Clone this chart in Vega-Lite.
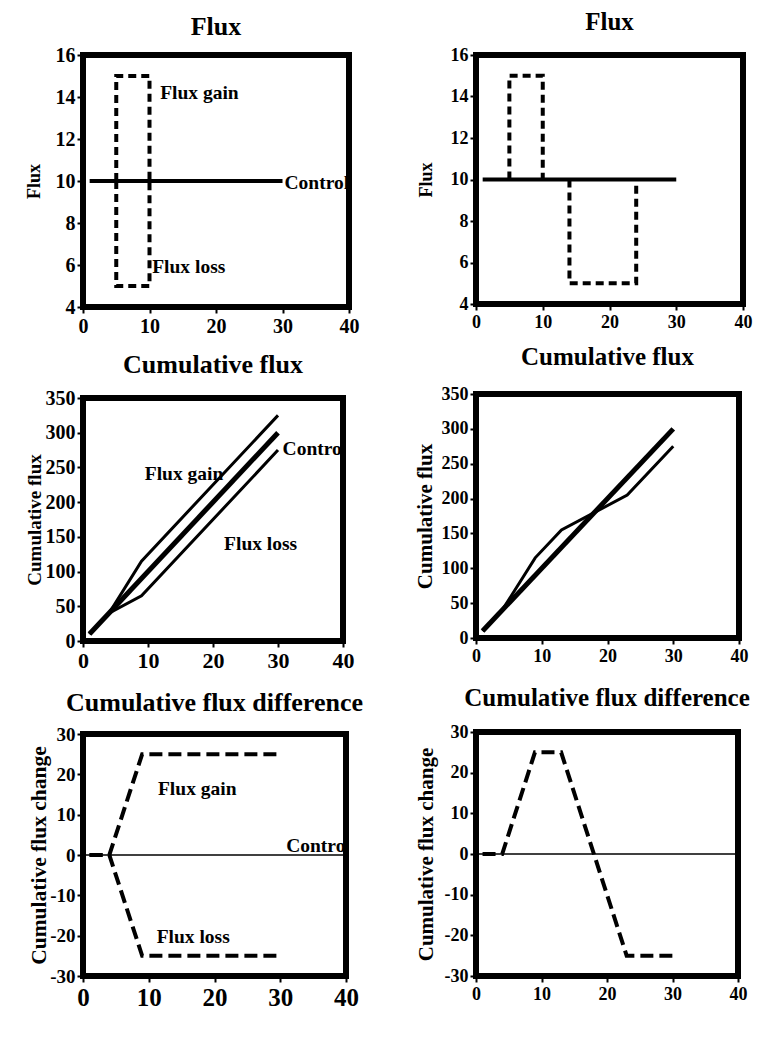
{
  "$schema": "https://vega.github.io/schema/vega-lite/v6.json",
  "background": "white",
  "padding": {"left": 22, "top": 7, "right": 5, "bottom": 5},
  "config": {
    "font": "Liberation Serif",
    "view": {"stroke": "black", "strokeWidth": 6},
    "title": {"font": "Liberation Serif", "fontSize": 26, "fontWeight": "bold", "color": "black", "offset": 8},
    "axis": {
      "labelFont": "Liberation Serif", "labelFontWeight": "bold", "labelFontSize": 18, "labelColor": "black",
      "titleFont": "Liberation Serif", "titleFontWeight": "bold", "titleFontSize": 18, "titleColor": "black",
      "grid": false, "domain": false, "tickColor": "black", "tickWidth": 2, "tickSize": 6, "labelPadding": 2,
      "labelOverlap": false, "labelFlush": false,
      "labelExpr": "datum.value < 0 ? '-' + abs(datum.value) : '' + datum.value"
    },
    "axisX": {"labelPadding": 3}
  },
  "spacing": 44,
  "align": "none",
  "hconcat": [
    {
      "spacing": 10,
      "align": "none",
      "vconcat": [
        {
          "title": {"text": "Flux", "offset": 5},
          "width": 266, "height": 252,
          "layer": [
            {
              "data": {"values": [{"x": 1, "y": 10}, {"x": 30, "y": 10}]},
              "mark": {"type": "line", "color": "black", "strokeWidth": 4},
              "encoding": {
                "x": {"field": "x", "type": "quantitative", "scale": {"domain": [0, 40], "nice": false}, "axis": {"values": [0, 10, 20, 30, 40], "title": null, "labelFontSize": 20, "labelOverlap": false}},
                "y": {"field": "y", "type": "quantitative", "scale": {"domain": [4, 16], "nice": false, "zero": false}, "axis": {"values": [4, 6, 8, 10, 12, 14, 16], "title": "Flux", "titlePadding": 4, "minExtent": 36, "maxExtent": 36, "labelFontSize": 20, "labelOverlap": false}}
              }
            },
            {
              "data": {"values": [
                {"s": "gain", "o": 1, "x": 5, "y": 10}, {"s": "gain", "o": 2, "x": 5, "y": 15}, {"s": "gain", "o": 3, "x": 10, "y": 15}, {"s": "gain", "o": 4, "x": 10, "y": 10},
                {"s": "loss", "o": 1, "x": 5, "y": 10}, {"s": "loss", "o": 2, "x": 5, "y": 5}, {"s": "loss", "o": 3, "x": 10, "y": 5}, {"s": "loss", "o": 4, "x": 10, "y": 10}
              ]},
              "mark": {"type": "line", "color": "black", "strokeWidth": 4, "strokeDash": [8, 5]},
              "encoding": {
                "x": {"field": "x", "type": "quantitative"},
                "y": {"field": "y", "type": "quantitative"},
                "detail": {"field": "s"},
                "order": {"field": "o"}
              }
            },
            {
              "data": {"values": [
                {"x": 11.6, "y": 14.2, "t": "Flux gain"},
                {"x": 10.4, "y": 5.9, "t": "Flux loss"},
                {"x": 30.3, "y": 9.9, "t": "Control"}
              ]},
              "mark": {"type": "text", "align": "left", "baseline": "middle", "font": "Liberation Serif", "fontWeight": "bold", "fontSize": 19.5, "color": "black", "clip": true},
              "encoding": {
                "x": {"field": "x", "type": "quantitative"},
                "y": {"field": "y", "type": "quantitative"},
                "text": {"field": "t"}
              }
            }
          ]
        },
        {
          "spacing": 13,
          "align": "none",
          "vconcat": [
            {
              "title": {"text": "Cumulative flux", "offset": 10},
              "width": 260, "height": 243,
              "layer": [
                {
                  "data": {"values": [{"x": 1, "y": 10}, {"x": 30, "y": 300}]},
                  "mark": {"type": "line", "color": "black", "strokeWidth": 5},
                  "encoding": {
                    "x": {"field": "x", "type": "quantitative", "scale": {"domain": [0, 40], "nice": false}, "axis": {"values": [0, 10, 20, 30, 40], "title": null, "labelFontSize": 22, "labelOverlap": false}},
                    "y": {"field": "y", "type": "quantitative", "scale": {"domain": [0, 350], "nice": false}, "axis": {"values": [0, 50, 100, 150, 200, 250, 300, 350], "tickCount": 8, "title": "Cumulative flux", "titlePadding": 4, "minExtent": 35, "maxExtent": 35, "titleFontSize": 19, "labelFontSize": 20, "labelOverlap": false}}
                  }
                },
                {
                  "data": {"values": [
                    {"s": "gain", "x": 1, "y": 10}, {"s": "gain", "x": 4, "y": 40}, {"s": "gain", "x": 9, "y": 115}, {"s": "gain", "x": 30, "y": 325},
                    {"s": "loss", "x": 1, "y": 10}, {"s": "loss", "x": 4, "y": 40}, {"s": "loss", "x": 9, "y": 65}, {"s": "loss", "x": 30, "y": 275}
                  ]},
                  "mark": {"type": "line", "color": "black", "strokeWidth": 3},
                  "encoding": {
                    "x": {"field": "x", "type": "quantitative"},
                    "y": {"field": "y", "type": "quantitative"},
                    "detail": {"field": "s"}
                  }
                },
                {
                  "data": {"values": [
                    {"x": 9.5, "y": 240, "t": "Flux gain"},
                    {"x": 21.7, "y": 140, "t": "Flux loss"},
                    {"x": 30.7, "y": 276, "t": "Control"}
                  ]},
                  "mark": {"type": "text", "align": "left", "baseline": "middle", "font": "Liberation Serif", "fontWeight": "bold", "fontSize": 19.5, "color": "black", "clip": true},
                  "encoding": {
                    "x": {"field": "x", "type": "quantitative"},
                    "y": {"field": "y", "type": "quantitative"},
                    "text": {"field": "t"}
                  }
                }
              ]
            },
            {
              "title": {"text": "Cumulative flux difference", "offset": 9},
              "width": 263, "height": 242,
              "layer": [
                {
                  "data": {"values": [{"x": 0, "y": 0}, {"x": 40, "y": 0}]},
                  "mark": {"type": "line", "color": "black", "strokeWidth": 1.3},
                  "encoding": {
                    "x": {"field": "x", "type": "quantitative", "scale": {"domain": [0, 40], "nice": false}, "axis": {"values": [0, 10, 20, 30, 40], "title": null, "labelFontSize": 25, "labelOverlap": false}},
                    "y": {"field": "y", "type": "quantitative", "scale": {"domain": [-30, 30], "nice": false}, "axis": {"values": [-30, -20, -10, 0, 10, 20, 30], "title": "Cumulative flux change", "titlePadding": 2, "minExtent": 31, "maxExtent": 31, "titleFontSize": 21.5, "labelFontSize": 19, "labelOverlap": false}}
                  }
                },
                {
                  "data": {"values": [
                    {"s": "gain", "x": 1, "y": 0}, {"s": "gain", "x": 4, "y": 0}, {"s": "gain", "x": 9, "y": 25}, {"s": "gain", "x": 30, "y": 25},
                    {"s": "loss", "x": 1, "y": 0}, {"s": "loss", "x": 4, "y": 0}, {"s": "loss", "x": 9, "y": -25}, {"s": "loss", "x": 30, "y": -25}
                  ]},
                  "mark": {"type": "line", "color": "black", "strokeWidth": 4, "strokeDash": [13, 6]},
                  "encoding": {
                    "x": {"field": "x", "type": "quantitative"},
                    "y": {"field": "y", "type": "quantitative"},
                    "detail": {"field": "s"}
                  }
                },
                {
                  "data": {"values": [
                    {"x": 11.4, "y": 16.4, "t": "Flux gain"},
                    {"x": 11.2, "y": -20.3, "t": "Flux loss"},
                    {"x": 30.9, "y": 2.2, "t": "Control"}
                  ]},
                  "mark": {"type": "text", "align": "left", "baseline": "middle", "font": "Liberation Serif", "fontWeight": "bold", "fontSize": 19.5, "color": "black", "clip": true},
                  "encoding": {
                    "x": {"field": "x", "type": "quantitative"},
                    "y": {"field": "y", "type": "quantitative"},
                    "text": {"field": "t"}
                  }
                }
              ]
            }
          ]
        }
      ]
    },
    {
      "spacing": 8,
      "vconcat": [
        {
          "title": {"text": "Flux", "fontSize": 25, "offset": 11},
          "width": 267, "height": 249,
          "layer": [
            {
              "data": {"values": [{"x": 1, "y": 10}, {"x": 30, "y": 10}]},
              "mark": {"type": "line", "color": "black", "strokeWidth": 4},
              "encoding": {
                "x": {"field": "x", "type": "quantitative", "scale": {"domain": [0, 40], "nice": false}, "axis": {"values": [0, 10, 20, 30, 40], "title": null, "labelOverlap": false}},
                "y": {"field": "y", "type": "quantitative", "scale": {"domain": [4, 16], "nice": false, "zero": false}, "axis": {"values": [4, 6, 8, 10, 12, 14, 16], "title": "Flux", "titlePadding": 4, "minExtent": 37, "maxExtent": 37, "labelOverlap": false}}
              }
            },
            {
              "data": {"values": [
                {"s": "gain", "o": 1, "x": 5, "y": 10}, {"s": "gain", "o": 2, "x": 5, "y": 15}, {"s": "gain", "o": 3, "x": 10, "y": 15}, {"s": "gain", "o": 4, "x": 10, "y": 10},
                {"s": "loss", "o": 1, "x": 14, "y": 10}, {"s": "loss", "o": 2, "x": 14, "y": 5}, {"s": "loss", "o": 3, "x": 24, "y": 5}, {"s": "loss", "o": 4, "x": 24, "y": 10}
              ]},
              "mark": {"type": "line", "color": "black", "strokeWidth": 4, "strokeDash": [8, 5]},
              "encoding": {
                "x": {"field": "x", "type": "quantitative"},
                "y": {"field": "y", "type": "quantitative"},
                "detail": {"field": "s"},
                "order": {"field": "o"}
              }
            }
          ]
        },
        {
          "spacing": 15,
          "vconcat": [
            {
              "title": {"text": "Cumulative flux", "fontSize": 25, "offset": 15},
              "width": 263, "height": 244,
              "layer": [
                {
                  "data": {"values": [{"x": 1, "y": 10}, {"x": 30, "y": 300}]},
                  "mark": {"type": "line", "color": "black", "strokeWidth": 5},
                  "encoding": {
                    "x": {"field": "x", "type": "quantitative", "scale": {"domain": [0, 40], "nice": false}, "axis": {"values": [0, 10, 20, 30, 40], "title": null, "labelOverlap": false}},
                    "y": {"field": "y", "type": "quantitative", "scale": {"domain": [0, 350], "nice": false}, "axis": {"values": [0, 50, 100, 150, 200, 250, 300, 350], "tickCount": 8, "title": "Cumulative flux", "titlePadding": 4, "minExtent": 37, "maxExtent": 37, "titleFontSize": 21, "labelOverlap": false}}
                  }
                },
                {
                  "data": {"values": [
                    {"x": 1, "y": 10}, {"x": 4, "y": 40}, {"x": 9, "y": 115}, {"x": 13, "y": 155}, {"x": 23, "y": 205}, {"x": 30, "y": 275}
                  ]},
                  "mark": {"type": "line", "color": "black", "strokeWidth": 3},
                  "encoding": {
                    "x": {"field": "x", "type": "quantitative"},
                    "y": {"field": "y", "type": "quantitative"}
                  }
                }
              ]
            },
            {
              "title": {"text": "Cumulative flux difference", "fontSize": 25, "offset": 12},
              "width": 262, "height": 244,
              "layer": [
                {
                  "data": {"values": [{"x": 0, "y": 0}, {"x": 40, "y": 0}]},
                  "mark": {"type": "line", "color": "black", "strokeWidth": 1.3},
                  "encoding": {
                    "x": {"field": "x", "type": "quantitative", "scale": {"domain": [0, 40], "nice": false}, "axis": {"values": [0, 10, 20, 30, 40], "title": null, "labelOverlap": false}},
                    "y": {"field": "y", "type": "quantitative", "scale": {"domain": [-30, 30], "nice": false}, "axis": {"values": [-30, -20, -10, 0, 10, 20, 30], "title": "Cumulative flux change", "titlePadding": 3, "minExtent": 37, "maxExtent": 37, "titleFontSize": 21, "labelOverlap": false}}
                  }
                },
                {
                  "data": {"values": [
                    {"x": 1, "y": 0}, {"x": 4, "y": 0}, {"x": 9, "y": 25}, {"x": 13, "y": 25}, {"x": 23, "y": -25}, {"x": 30, "y": -25}
                  ]},
                  "mark": {"type": "line", "color": "black", "strokeWidth": 4, "strokeDash": [13, 6]},
                  "encoding": {
                    "x": {"field": "x", "type": "quantitative"},
                    "y": {"field": "y", "type": "quantitative"}
                  }
                }
              ]
            }
          ]
        }
      ]
    }
  ]
}
